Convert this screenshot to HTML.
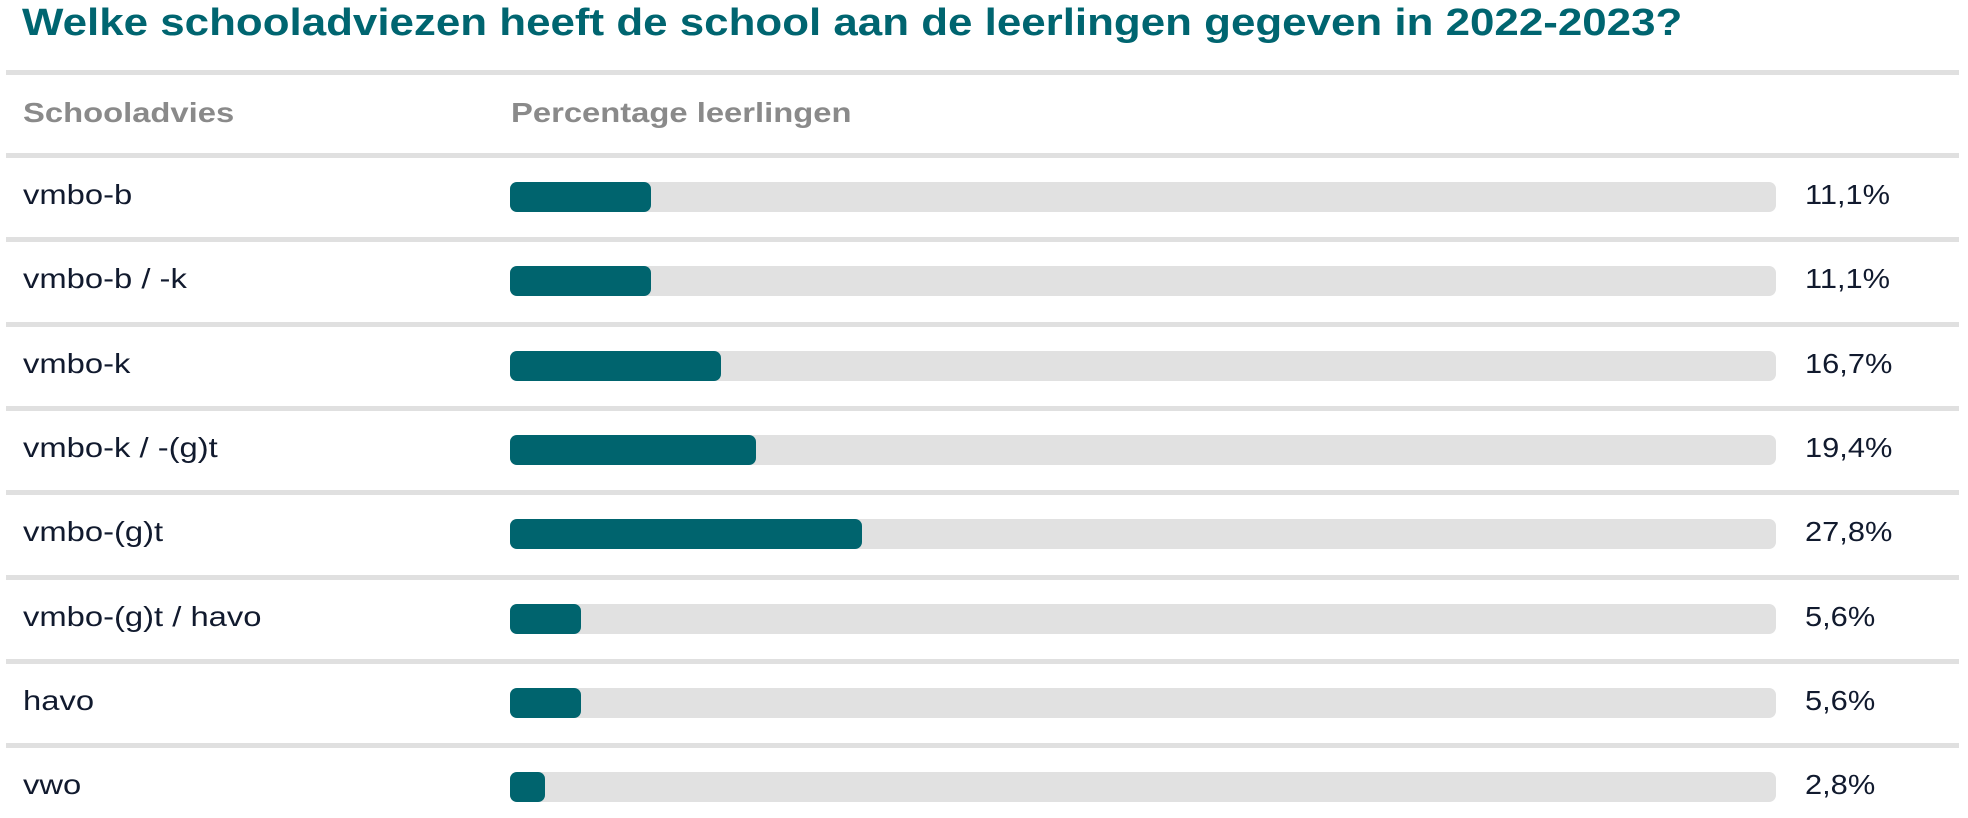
<!DOCTYPE html>
<html><head><meta charset="utf-8">
<style>
body{margin:0;width:1968px;height:818px;background:#fff;font-family:"Liberation Sans",sans-serif;overflow:hidden;position:relative}
.t{position:absolute;white-space:nowrap;transform-origin:0 50%}
.div{position:absolute;left:6px;width:1953px;height:5px;background:#e0e0e0}
</style></head><body>
<div class="t" style="left:22px;top:2px;font-size:38px;font-weight:bold;color:#006570;transform:scaleX(1.155)">Welke schooladviezen heeft de school aan de leerlingen gegeven in 2022-2023?</div>
<div class="div" style="top:70px"></div>
<div class="t" style="left:23px;top:97px;font-size:28px;font-weight:bold;color:#8a8a8a;transform:scaleX(1.17)">Schooladvies</div>
<div class="t" style="left:511px;top:97px;font-size:28px;font-weight:bold;color:#8a8a8a;transform:scaleX(1.17)">Percentage leerlingen</div>
<div class="div" style="top:153px"></div>
<div id="rows"></div>
<script>
const categories=["vmbo-b","vmbo-b / -k","vmbo-k","vmbo-k / -(g)t","vmbo-(g)t","vmbo-(g)t / havo","havo","vwo"];
const values=[11.1,11.1,16.7,19.4,27.8,5.6,5.6,2.8];
const labels=["11,1%","11,1%","16,7%","19,4%","27,8%","5,6%","5,6%","2,8%"];
const x0=510,trackW=1266,max=100,rowTop=155,pitch=84.3;
const xs=v=>v/max*trackW;
const root=document.getElementById('rows');
categories.forEach((c,i)=>{
  const cy=rowTop+pitch*i+42;
  const lab=document.createElement('div');
  
  
  lab.className='t';lab.style.cssText=`left:23px;top:${cy-18}px;font-size:28px;color:#111a2e;transform:scaleX(1.17)`;
  lab.textContent=c;root.appendChild(lab);
  const tr=document.createElement('div');
  
  
  tr.style.cssText=`position:absolute;left:${x0}px;top:${cy-15}px;width:${trackW}px;height:30px;background:#e1e1e1;border-radius:7px`;
  root.appendChild(tr);
  const b=document.createElement('div');
  
  
  b.style.cssText=`position:absolute;left:${x0}px;top:${cy-15}px;width:${xs(values[i])}px;height:30px;background:#00646e;border-radius:7px`;
  root.appendChild(b);
  const v=document.createElement('div');
  
  
  v.className='t';v.style.cssText=`left:1805px;top:${cy-18}px;font-size:28px;color:#111a2e;transform:scaleX(1.1)`;
  v.textContent=labels[i];root.appendChild(v);
  if(i<categories.length-1){
    const d=document.createElement('div');
    
    
    d.className='div';d.style.top=(rowTop+pitch*(i+1)-2)+'px';root.appendChild(d);
  }
});
</script>
</body></html>
